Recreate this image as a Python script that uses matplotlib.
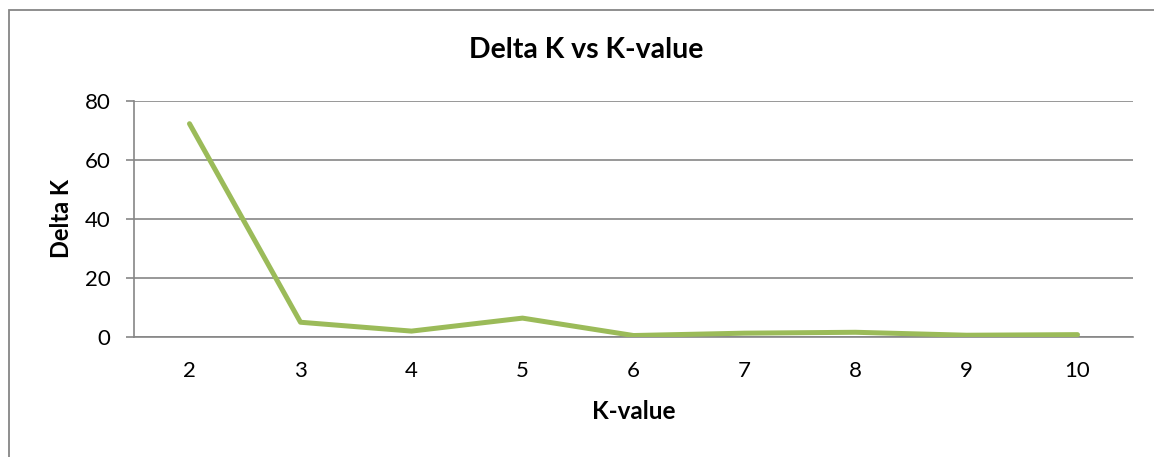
import matplotlib.pyplot as plt
from matplotlib.patches import Rectangle

plt.rcParams["font.family"] = ["Lato", "DejaVu Sans"]

k_values = [2, 3, 4, 5, 6, 7, 8, 9, 10]
delta_k = [72.3, 5.0, 2.0, 6.4, 0.5, 1.3, 1.6, 0.6, 0.8]
y_ticks = [0, 20, 40, 60, 80]

GRID = "#868686"
LINE = "#9BBB59"

W, H = 1154, 457
fig = plt.figure(figsize=(W / 100, H / 100), dpi=100)
ax = fig.add_axes([134 / W, 1 - 337 / H, (1133 - 134) / W, (337 - 101) / H])

positions = list(range(len(k_values)))
ax.plot(positions, delta_k, color=LINE, linewidth=3.6, solid_capstyle="round",
        solid_joinstyle="round", zorder=3)

ax.set_xlim(-0.5, len(k_values) - 0.5)
ax.set_ylim(0, 80)
ax.set_yticks(y_ticks)
ax.set_xticks(positions)
ax.set_xticklabels([str(k) for k in k_values])
ax.yaxis.grid(True, color=GRID, linewidth=1.2)
ax.set_axisbelow(True)

for side in ["top", "right"]:
    ax.spines[side].set_visible(False)
for side in ["left", "bottom"]:
    ax.spines[side].set_color(GRID)
    ax.spines[side].set_linewidth(1.2)
ax.spines["bottom"].set_zorder(2)

ax.tick_params(axis="y", length=6, width=1.2, color=GRID, labelsize=16, pad=11)
ax.tick_params(axis="x", length=0, labelsize=16, pad=17)

ax.set_xlabel("K-value", fontsize=17.5, fontweight="bold", labelpad=14)
ax.set_ylabel("Delta K", fontsize=17, fontweight="bold", labelpad=8)
ax.set_clip_on(False)

fig.text(586 / W, 1 - 50 / H, "Delta K vs K-value", ha="center", va="center",
         fontsize=20.5, fontweight="bold")

# chart-area border, running past the right and bottom edges
fig.patches.append(Rectangle((8.5 / W, -0.1), 1.2, 1 - 9.5 / H + 0.1,
                             transform=fig.transFigure, fill=False,
                             edgecolor="#868686", linewidth=1.3))

fig.savefig("out.png", dpi=100, facecolor="white")
